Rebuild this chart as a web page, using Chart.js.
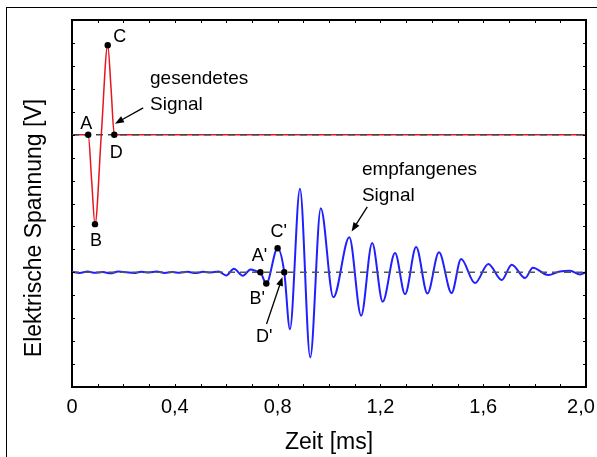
<!DOCTYPE html>
<html>
<head>
<meta charset="utf-8">
<script src="https://cdn.jsdelivr.net/npm/chart.js@4.4.1/dist/chart.umd.min.js"></script>
<style>
    html, body { margin: 0; padding: 0; background: #fff; }
    #wrap { width: 597px; height: 457px; }
</style>
</head>
<body>
<div id="wrap"><canvas id="chart" width="597" height="457"></canvas></div>
<script>
// time in ms, voltage in axis divisions (axis has 16 divisions, no labels)
const sentTime = [0, 0.063, 0.0765, 0.0895, 0.114, 0.139, 0.152, 0.1646, 2.0];
const sentVolt = [11, 11, 9.0, 7.1, 11.0, 14.9, 13.0, 11, 11];
const sentKeys = ['A', 'B', 'C', 'D'];
const sentKeyIdx = [1, 3, 5, 7];

const recvTime = [0, 0.03, 0.06, 0.09, 0.12, 0.15, 0.18, 0.21, 0.24, 0.27, 0.30, 0.33, 0.36, 0.39,
    0.42, 0.45, 0.48, 0.51, 0.54, 0.57, 0.60, 0.63, 0.665, 0.695, 0.72, 0.733, 0.756, 0.800, 0.826,
    0.848, 0.887, 0.927, 0.968, 1.017, 1.079, 1.125, 1.168, 1.209, 1.257, 1.296, 1.339, 1.383, 1.428,
    1.477, 1.514, 1.568, 1.620, 1.672, 1.711, 1.763, 1.793, 1.853, 1.899, 1.938, 1.977, 2.0];
const recvVolt = [5.02, 4.97, 5.03, 4.98, 5.01, 4.96, 5.03, 5.0, 4.97, 5.02, 4.99, 5.03, 4.97, 5.01,
    4.98, 5.02, 4.97, 5.02, 4.99, 5.03, 4.86, 5.15, 4.85, 5.12, 5.04, 5.0, 4.51, 6.05, 5.0,
    2.52, 8.64, 1.29, 7.79, 3.91, 6.53, 3.11, 6.28, 3.72, 5.84, 4.05, 6.10, 4.08, 5.87,
    4.10, 5.58, 4.53, 5.36, 4.66, 5.33, 4.75, 5.20, 4.88, 5.04, 5.07, 4.91, 5.0];
const recvKeys = ["A'", "B'", "C'", "D'"];
const recvKeyIdx = [25, 26, 27, 28];

const baseTime = [0, 2.0];
const sentZero = 11;
const recvZero = 5;

const xTicks = [0, 0.4, 0.8, 1.2, 1.6, 2.0];
const xTickLabels = ['0', '0,4', '0,8', '1,2', '1,6', '2,0'];

const FONT = "'Liberation Sans', Arial, Helvetica, sans-serif";

const toXY = (xs, ys) => xs.map((x, i) => ({ x: x, y: ys[i] }));
const pick = (xs, ys, idx) => idx.map(i => ({ x: xs[i], y: ys[i] }));

// label offsets in px from the marked point
const keyOffsets = {
    'A': [-2, -11], 'B': [1, 17], 'C': [12, -8], 'D': [2, 18],
    "A'": [-1, -16], "B'": [-9, 15], "C'": [1, -16], "D'": [-20, 65]
};

function arrow(ctx, x1, y1, x2, y2) {
    const a = Math.atan2(y2 - y1, x2 - x1);
    ctx.beginPath();
    ctx.moveTo(x1, y1);
    ctx.lineTo(x2 - 6 * Math.cos(a), y2 - 6 * Math.sin(a));
    ctx.stroke();
    ctx.beginPath();
    ctx.moveTo(x2, y2);
    ctx.lineTo(x2 - 9 * Math.cos(a) + 3.5 * Math.sin(a), y2 - 9 * Math.sin(a) - 3.5 * Math.cos(a));
    ctx.lineTo(x2 - 9 * Math.cos(a) - 3.5 * Math.sin(a), y2 - 9 * Math.sin(a) + 3.5 * Math.cos(a));
    ctx.closePath();
    ctx.fill();
}

const decorPlugin = {
    id: 'decor',
    afterDraw(chart) {
        const { ctx, chartArea: area } = chart;
        const xs = chart.scales.x, ys = chart.scales.y;
        const px = v => xs.getPixelForValue(v), py = v => ys.getPixelForValue(v);
        ctx.save();

        // outer frame (cut by the picture edge)
        ctx.strokeStyle = '#000';
        ctx.lineWidth = 1;
        ctx.strokeRect(6.5, 7.5, 700, 700);

        // top and right axis lines
        ctx.lineWidth = 2;
        ctx.beginPath();
        ctx.moveTo(area.left, area.top);
        ctx.lineTo(area.right, area.top);
        ctx.lineTo(area.right, area.bottom);
        ctx.stroke();

        // inward ticks on all four sides
        ctx.lineWidth = 1;
        ctx.beginPath();
        xs.ticks.forEach(t => {
            const x = Math.round(px(t.value)) + 0.5;
            ctx.moveTo(x, area.bottom); ctx.lineTo(x, area.bottom - 3);
            ctx.moveTo(x, area.top); ctx.lineTo(x, area.top + 3);
        });
        ys.ticks.forEach(t => {
            const y = Math.round(py(t.value)) + 0.5;
            ctx.moveTo(area.left, y); ctx.lineTo(area.left + 3, y);
            ctx.moveTo(area.right, y); ctx.lineTo(area.right - 3, y);
        });
        ctx.stroke();

        // point letters
        ctx.fillStyle = '#000';
        ctx.font = '18px ' + FONT;
        ctx.textAlign = 'center';
        ctx.textBaseline = 'middle';
        const keyText = (keys, tx, vy, idx) => keys.forEach((k, i) => {
            const o = keyOffsets[k];
            ctx.fillText(k, px(tx[idx[i]]) + o[0], py(vy[idx[i]]) + o[1]);
        });
        keyText(sentKeys, sentTime, sentVolt, sentKeyIdx);
        keyText(recvKeys, recvTime, recvVolt, recvKeyIdx);

        // callouts
        ctx.font = '19px ' + FONT;
        ctx.textAlign = 'left';
        ctx.textBaseline = 'alphabetic';
        ctx.fillText('gesendetes', px(0.3035), py(13.23));
        ctx.fillText('Signal', px(0.3035), py(13.23) + 26);
        ctx.fillText('empfangenes', px(1.128), py(9.26));
        ctx.fillText('Signal', px(1.128), py(9.26) + 26);

        ctx.strokeStyle = '#000';
        ctx.lineWidth = 1.3;
        arrow(ctx, px(0.277), py(12.17), px(0.167), py(11.48));
        arrow(ctx, px(1.149), py(7.85), px(1.088), py(6.78));
        arrow(ctx, px(0.757), py(2.75), px(0.819), py(4.8));

        // axis titles
        ctx.font = '23px ' + FONT;
        ctx.textAlign = 'center';
        ctx.fillText('Zeit [ms]', (area.left + area.right) / 2, 449);
        ctx.translate(41, 228);
        ctx.rotate(-Math.PI / 2);
        ctx.fillText('Elektrische Spannung [V]', 0, 0);
        ctx.restore();
    }
};

new Chart(document.getElementById('chart'), {
    type: 'line',
    data: {
        datasets: [
            {
                data: pick(sentTime, sentVolt, sentKeyIdx).concat(pick(recvTime, recvVolt, recvKeyIdx)),
                showLine: false,
                pointRadius: 3.2,
                pointBackgroundColor: '#000',
                pointBorderWidth: 0,
                order: 0
            },
            {
                data: toXY(baseTime, baseTime.map(() => sentZero)),
                borderColor: '#444',
                borderWidth: 1.4,
                borderDash: [7, 5],
                pointRadius: 0,
                order: 1
            },
            {
                data: toXY(baseTime, baseTime.map(() => recvZero)),
                borderColor: '#555',
                borderWidth: 1.4,
                borderDash: [7, 5],
                pointRadius: 0,
                order: 1
            },
            {
                data: toXY(sentTime, sentVolt),
                borderColor: '#e8141e',
                borderWidth: 1.5,
                cubicInterpolationMode: 'monotone',
                pointRadius: 0,
                order: 2
            },
            {
                data: toXY(recvTime, recvVolt),
                borderColor: '#1f1fff',
                borderWidth: 2,
                cubicInterpolationMode: 'monotone',
                pointRadius: 0,
                order: 2
            }
        ]
    },
    options: {
        responsive: false,
        animation: false,
        devicePixelRatio: 1,
        layout: { padding: { left: 72, right: 11, top: 20, bottom: 0 } },
        plugins: { legend: { display: false }, tooltip: { enabled: false } },
        scales: {
            x: {
                type: 'linear',
                min: 0,
                max: 2.0,
                afterFit: s => { s.height = 70; s.paddingLeft = 0; s.paddingRight = 0; },
                grid: { display: false },
                border: { display: true, color: '#000', width: 2 },
                ticks: {
                    stepSize: 0.1,
                    autoSkip: false,
                    maxRotation: 0,
                    padding: 0,
                    color: '#000',
                    font: { family: FONT, size: 20 },
                    callback: v => {
                        const i = xTicks.findIndex(t => Math.abs(t - v) < 1e-6);
                        if (i < 0) return '';
                        // last label sits at the picture edge, nudge it inside
                        return i === xTicks.length - 1 ? xTickLabels[i] + '\u2002' : xTickLabels[i];
                    }
                }
            },
            y: {
                min: 0,
                max: 16,
                afterFit: s => { s.width = 0; },
                grid: { display: false },
                border: { display: true, color: '#000', width: 2 },
                ticks: { stepSize: 1, display: false }
            }
        }
    },
    plugins: [decorPlugin]
});
</script>
</body>
</html>
